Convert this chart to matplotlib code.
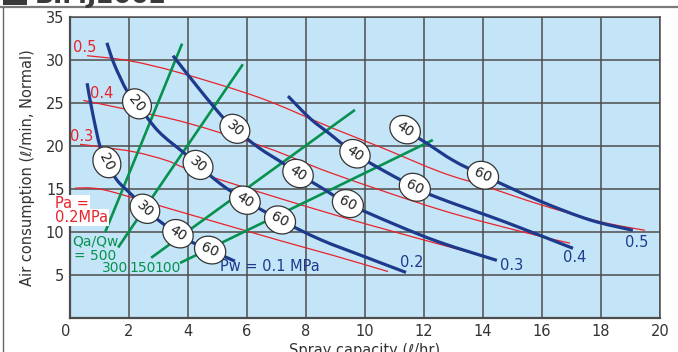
import numpy as np
import matplotlib.pyplot as plt
from matplotlib.patches import Rectangle, PathPatch
from matplotlib.lines import Line2D
from matplotlib.path import Path

# water pressure curves Pw (MPa), blue
pw_names = ['0.1', '0.2', '0.3', '0.4', '0.5']
pw_x = [
    [0.58, 0.75, 1.02, 1.25, 1.6, 2.10, 2.54, 3.1, 3.66, 4.2, 4.75, 5.59],
    [1.25, 1.5, 1.93, 2.27, 3.0, 3.90, 4.34, 5.1, 5.93, 7.12, 8.5, 9.93, 11.39],
    [3.49, 4.41, 5.19, 5.59, 6.4, 7.22, 7.73, 8.5, 9.42, 11.0, 12.54, 14.47],
    [7.39, 8.14, 8.81, 9.66, 10.7, 11.69, 12.54, 14.8, 17.05],
    [11.36, 12.10, 13.0, 14.0, 15.93, 17.63, 19.08],
]
pw_y = [
    [27.3, 24.1, 19.9, 18.1, 16.0, 14.3, 12.7, 11.1, 9.8, 8.7, 7.9, 6.6],
    [32.0, 29.5, 26.4, 24.9, 21.7, 19.1, 17.8, 15.6, 13.7, 11.4, 9.1, 7.2, 5.3],
    [30.5, 26.5, 23.3, 22.0, 19.8, 18.0, 16.8, 15.2, 13.3, 10.9, 8.8, 6.7],
    [25.8, 23.2, 21.4, 19.1, 17.0, 15.2, 13.9, 11.1, 8.1],
    [21.9, 20.3, 18.3, 16.6, 13.6, 11.4, 10.2],
]
# ellipse tags on the Pw curves: index of the curve point and its value
tag_idx = [[3, 6, 8, 10], [3, 6, 8, 9], [3, 6, 8], [3, 5], [0, 3]]
tag_txt = [['20', '30', '40', '60'], ['20', '30', '40', '60'],
           ['30', '40', '60'], ['40', '60'], ['40', '60']]
pw_lab_x = [11.59, 14.98, 17.12, 19.22]
pw_lab_y = [6.5, 6.1, 7.0, 8.8]

# air pressure curves Pa (MPa), red
pa_names = ['0.2', '0.3', '0.4', '0.5']
pa_x = [
    [0.17, 0.78, 1.5, 3.39, 7.12, 8.9, 10.78],
    [0.34, 1.02, 2.2, 3.29, 4.17, 7.12, 10.17, 13.8],
    [0.45, 2.14, 3.95, 6.67, 8.9, 12.54, 15.36, 16.95],
    [0.58, 2.03, 3.73, 6.44, 8.81, 10.5, 12.54, 14.0, 15.93, 17.97, 19.49],
]
pa_y = [
    [15.1, 15.1, 14.6, 12.7, 9.0, 7.3, 5.4],
    [20.2, 19.9, 19.3, 18.3, 17.1, 13.9, 10.8, 7.4],
    [25.3, 24.1, 22.7, 19.8, 16.8, 12.6, 10.0, 8.7],
    [30.5, 29.9, 28.5, 25.6, 22.2, 19.9, 17.0, 15.4, 13.2, 11.2, 10.2],
]
pa_lab_x = [0.4, 1.08, 0.5]
pa_lab_y = [21.1, 26.1, 31.4]

# air/water ratio lines Qa/Qw, green
qr_names = ['500', '300', '150', '100']
qr_x = [[1.19, 3.8], [1.63, 5.86], [2.75, 9.66], [3.73, 12.3]]
qr_y = [[9.97, 31.9], [8.2, 29.5], [7.0, 24.2], [6.4, 20.7]]
qr_lab_x = [1.53, 2.47, 3.32]

BLUE = '#1d3a8c'
RED = '#e8232b'
GREEN = '#07914f'
GRID = '#4d4d4d'
TXT = '#333333'


def smooth_curve(xs, ys):
    # Catmull-Rom through the read points, as cubic Bezier segments
    p = np.column_stack([xs, ys])
    verts = [p[0]]
    codes = [Path.MOVETO]
    for i in range(len(p) - 1):
        p0 = p[i - 1] if i > 0 else p[i]
        p3 = p[i + 2] if i + 2 < len(p) else p[i + 1]
        c1 = p[i] + (p[i + 1] - p0) / 6
        c2 = p[i + 1] - (p3 - p[i]) / 6
        verts += [c1, c2, p[i + 1]]
        codes += [Path.CURVE4] * 3
    return Path(verts, codes)


fig = plt.figure(figsize=(6.78, 3.52), dpi=100)
ax = fig.add_axes([70/678, 1-318/352, 590/678, 301/352])
ax.set_facecolor('#c4e5f7')
ax.set_xlim(0, 20)
ax.set_ylim(0, 35)
ax.set_xticks(range(0, 21, 2))
ax.set_yticks(range(5, 36, 5))
ax.grid(True, color=GRID, lw=1.1)
ax.set_axisbelow(True)
ax.tick_params(length=0, labelsize=10.5, labelcolor=TXT, pad=4)
for s in ax.spines.values():
    s.set_color(GRID)
    s.set_linewidth(1.1)
ax.spines['left'].set_linewidth(1.6)
ax.spines['bottom'].set_linewidth(1.6)
ax.xaxis.get_major_ticks()[0].label1.set_horizontalalignment('right')

ax.set_xlabel('Spray capacity (ℓ/hr)', fontsize=10.5, color=TXT, labelpad=3)
ax.set_ylabel('Air consumption (ℓ/min, Normal)', fontsize=10.5, color=TXT, labelpad=8)

# red Pa curves
for xs, ys in zip(pa_x, pa_y):
    ax.add_patch(PathPatch(smooth_curve(xs, ys), fc='none', ec=RED, lw=0.9, zorder=2))
for name, x, y in zip(pa_names[1:], pa_lab_x, pa_lab_y):
    ax.text(x, y, name, color=RED, fontsize=10.5, ha='center', va='center', zorder=5)
ax.text(-0.51, 13.3, 'Pa =', color=RED, fontsize=10.5, ha='left', va='center', zorder=6,
        clip_on=False, bbox=dict(fc='white', ec='none', pad=0.5))
ax.text(-0.51, 11.7, '0.2MPa', color=RED, fontsize=10.5, ha='left', va='center', zorder=6,
        clip_on=False, bbox=dict(fc='white', ec='none', pad=0.5))

# green ratio lines
for xs, ys in zip(qr_x, qr_y):
    ax.plot(xs, ys, color=GREEN, lw=1.9, zorder=3, solid_capstyle='butt')
ax.text(0.85, 8.85, 'Qa/Qw', color=GREEN, fontsize=10, ha='center', va='center', zorder=5)
ax.text(0.85, 7.25, '= ' + qr_names[0], color=GREEN, fontsize=10, ha='center', va='center', zorder=5)
for name, x in zip(qr_names[1:], qr_lab_x):
    ax.text(x, 5.85, name, color=GREEN, fontsize=10, ha='center', va='center', zorder=5)

# blue Pw curves
for xs, ys in zip(pw_x, pw_y):
    ax.add_patch(PathPatch(smooth_curve(xs, ys), fc='none', ec=BLUE, lw=2.3, zorder=4,
                           capstyle='butt'))
ax.text(5.08, 6.0, 'Pw = ' + pw_names[0] + ' MPa', color=BLUE, fontsize=10.5,
        ha='left', va='center', zorder=5)
for name, x, y in zip(pw_names[1:], pw_lab_x, pw_lab_y):
    ax.text(x, y, name, color=BLUE, fontsize=10.5, ha='center', va='center', zorder=5)

# ellipse tags, rotated along the curve
fig.canvas.draw()
for xs, ys, idx, txt in zip(pw_x, pw_y, tag_idx, tag_txt):
    pts = ax.transData.transform(np.column_stack([xs, ys]))
    for i, t in zip(idx, txt):
        a = pts[max(i - 1, 0)]
        b = pts[min(i + 1, len(pts) - 1)]
        ang = np.degrees(np.arctan2(b[1] - a[1], b[0] - a[0]))
        ax.text(xs[i], ys[i], t, fontsize=10, color='#222222', ha='center', va='center',
                rotation=ang, rotation_mode='anchor', zorder=6,
                bbox=dict(boxstyle='ellipse,pad=0.18', fc='white', ec='#333333', lw=0.9))

# page decorations: header fragment and frame
fig.text(35/678, 1-3.5/352, 'BIMJ2002', fontsize=18, fontweight='bold', color='#3a3a3a',
         ha='left', va='baseline')
fig.add_artist(Rectangle((3/678, 1-4.5/352), 24/678, 4.5/352, transform=fig.transFigure,
                         fc='#3a3a3a', ec='none'))
fig.add_artist(Line2D([0, 1], [1-6.5/352, 1-6.5/352], transform=fig.transFigure,
                      color='#7a7a7a', lw=1.6))
fig.add_artist(Line2D([3/678, 3/678], [0, 1-6.5/352], transform=fig.transFigure,
                      color='#666666', lw=1.0))

fig.savefig('out.png', dpi=100)
